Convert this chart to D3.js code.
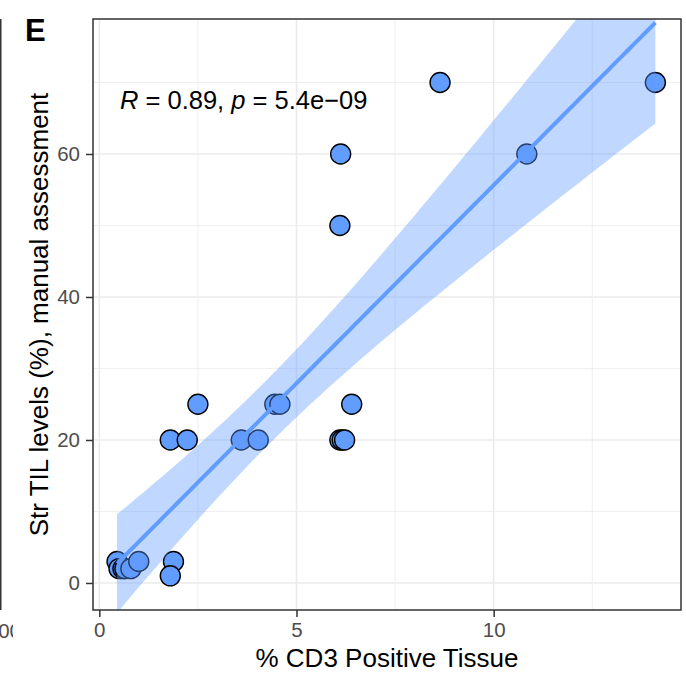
<!DOCTYPE html>
<html>
<head>
<meta charset="utf-8">
<script src="https://cdn.jsdelivr.net/npm/d3@7"></script>
<style>
  html, body { margin: 0; padding: 0; background: #fff; }
  svg { display: block; font-family: "Liberation Sans", Arial, Helvetica, sans-serif; }
</style>
</head>
<body>
<svg id="chart" width="686" height="673"></svg>
<script>
// % CD3 positive tissue (digital) vs stromal TIL level (manual, %)
const cd3Pct = [0.45, 0.5, 0.6, 0.65, 0.8, 1.0, 1.88, 1.8,
                1.8, 2.23, 3.6, 4.03, 6.1, 6.16, 6.22,
                2.5, 4.45, 4.58, 6.4,
                6.1, 6.12,
                8.64, 10.84, 14.1];
const tilPct = [3, 2, 2, 2, 2, 3, 3, 1,
                20, 20, 20, 20, 20, 20, 20,
                25, 25, 25, 25,
                50, 60,
                70, 60, 70];
const xTicks = [0, 5, 10];
const yTicks = [0, 20, 40, 60];
const xMinorTicks = [2.5, 7.5, 12.5];
const yMinorTicks = [10, 30, 50, 70];
const statText = { r: "0.89", p: "5.4e\u221209" };

const points = cd3Pct.map((x, i) => ({ x, y: tilPct[i] }));

const svg = d3.select("#chart");
const panel = { left: 93, right: 681, top: 19, bottom: 610 };

const x = d3.scaleLinear().domain([-0.16, 14.75]).range([panel.left, panel.right]);
const y = d3.scaleLinear().domain([-3.78, 78.88]).range([panel.bottom, panel.top]);

const blue = "#619CFF";

// ---- linear fit with 95% confidence band ----
const n = points.length;
const mx = d3.mean(points, d => d.x), my = d3.mean(points, d => d.y);
const sxx = d3.sum(points, d => (d.x - mx) ** 2);
const sxy = d3.sum(points, d => (d.x - mx) * (d.y - my));
const slope = sxy / sxx, intercept = my - slope * mx;
const sse = d3.sum(points, d => (d.y - intercept - slope * d.x) ** 2);
const s = Math.sqrt(sse / (n - 2));
// Student t 0.975 quantile (Cornish-Fisher expansion)
function tQuant(df) {
  const z = 1.959964;
  const g1 = (z ** 3 + z) / 4;
  const g2 = (5 * z ** 5 + 16 * z ** 3 + 3 * z) / 96;
  const g3 = (3 * z ** 7 + 19 * z ** 5 + 17 * z ** 3 - 15 * z) / 384;
  return z + g1 / df + g2 / df ** 2 + g3 / df ** 3;
}
const tq = tQuant(n - 2);
const [x0, x1] = d3.extent(points, d => d.x);
const fitX = d3.range(80).map(i => x0 + (x1 - x0) * i / 79);
const fit = fitX.map(xv => {
  const yh = intercept + slope * xv;
  const se = s * Math.sqrt(1 / n + (xv - mx) ** 2 / sxx);
  return { x: xv, y: yh, lo: yh - tq * se, hi: yh + tq * se };
});

// ---- clip path for panel ----
const defs = svg.append("defs");
defs.append("clipPath").attr("id", "panelClip")
  .append("rect")
  .attr("x", panel.left).attr("y", panel.top)
  .attr("width", panel.right - panel.left).attr("height", panel.bottom - panel.top);

// ---- gridlines ----
const grid = svg.append("g");
grid.selectAll("line.xmin").data(xMinorTicks).join("line")
  .attr("x1", d => x(d)).attr("x2", d => x(d))
  .attr("y1", panel.top).attr("y2", panel.bottom)
  .attr("stroke", "#EBEBEB").attr("stroke-width", 0.8);
grid.selectAll("line.ymin").data(yMinorTicks).join("line")
  .attr("y1", d => y(d)).attr("y2", d => y(d))
  .attr("x1", panel.left).attr("x2", panel.right)
  .attr("stroke", "#EBEBEB").attr("stroke-width", 0.8);
grid.selectAll("line.xmaj").data(xTicks).join("line")
  .attr("x1", d => x(d)).attr("x2", d => x(d))
  .attr("y1", panel.top).attr("y2", panel.bottom)
  .attr("stroke", "#EBEBEB").attr("stroke-width", 1.6);
grid.selectAll("line.ymaj").data(yTicks).join("line")
  .attr("y1", d => y(d)).attr("y2", d => y(d))
  .attr("x1", panel.left).attr("x2", panel.right)
  .attr("stroke", "#EBEBEB").attr("stroke-width", 1.6);

// ---- points, then band and fitted line ----
const plot = svg.append("g").attr("clip-path", "url(#panelClip)");
plot.selectAll("circle").data(points).join("circle")
  .attr("cx", d => x(d.x)).attr("cy", d => y(d.y))
  .attr("r", 10)
  .attr("fill", blue).attr("stroke", "#000").attr("stroke-width", 1.4);

plot.append("path").datum(fit)
  .attr("d", d3.area().x(d => x(d.x)).y0(d => y(d.lo)).y1(d => y(d.hi)))
  .attr("fill", blue).attr("fill-opacity", 0.4);

plot.append("path").datum(fit)
  .attr("d", d3.line().x(d => x(d.x)).y(d => y(d.y)))
  .attr("fill", "none").attr("stroke", blue).attr("stroke-width", 4);

// ---- panel border ----
svg.append("rect")
  .attr("x", panel.left).attr("y", panel.top)
  .attr("width", panel.right - panel.left).attr("height", panel.bottom - panel.top)
  .attr("fill", "none").attr("stroke", "#333").attr("stroke-width", 1.5);

// ---- axes ----
const xAxis = svg.append("g").attr("transform", `translate(0,${panel.bottom})`)
  .call(d3.axisBottom(x).tickValues(xTicks).tickSize(7).tickPadding(5).tickFormat(d3.format("d")));
const yAxis = svg.append("g").attr("transform", `translate(${panel.left},0)`)
  .call(d3.axisLeft(y).tickValues(yTicks).tickSize(7).tickPadding(6).tickFormat(d3.format("d")));
[xAxis, yAxis].forEach(g => {
  g.select(".domain").remove();
  g.selectAll(".tick line").attr("stroke", "#333").attr("stroke-width", 1.5);
  g.selectAll(".tick text").attr("fill", "#4D4D4D")
    .style("font-size", "20.5px").style("font-family", "Liberation Sans, Arial, sans-serif");
});

// ---- titles ----
svg.append("text")
  .attr("x", (panel.left + panel.right) / 2).attr("y", 667)
  .attr("text-anchor", "middle").attr("fill", "#000")
  .style("font-size", "26px")
  .text("% CD3 Positive Tissue");

svg.append("text")
  .attr("transform", `translate(48,${(panel.top + panel.bottom) / 2}) rotate(-90)`)
  .attr("text-anchor", "middle").attr("fill", "#000")
  .style("font-size", "26px")
  .text("Str TIL levels (%), manual assessment");

// ---- panel tag ----
svg.append("text")
  .attr("x", 25).attr("y", 41)
  .attr("fill", "#000").style("font-size", "31px").style("font-weight", "bold")
  .text("E");

// ---- correlation annotation ----
const ann = svg.append("text")
  .attr("x", 120).attr("y", 109).attr("fill", "#000").style("font-size", "25.5px");
ann.append("tspan").style("font-style", "italic").text("R");
ann.append("tspan").text(` = ${statText.r}, `);
ann.append("tspan").style("font-style", "italic").text("p");
ann.append("tspan").text(` = ${statText.p}`);

// ---- edge of the neighbouring panel ----
defs.append("clipPath").attr("id", "edgeClip")
  .append("rect").attr("x", 0).attr("y", 0).attr("width", 13).attr("height", 673);
const edge = svg.append("g").attr("clip-path", "url(#edgeClip)");
edge.append("line")
  .attr("x1", 0.75).attr("x2", 0.75).attr("y1", panel.top).attr("y2", panel.bottom)
  .attr("stroke", "#333").attr("stroke-width", 1.5);
edge.append("text")
  .attr("x", 21).attr("y", 638).attr("text-anchor", "end")
  .attr("fill", "#4D4D4D").style("font-size", "20.5px")
  .text("100");
</script>
</body>
</html>
